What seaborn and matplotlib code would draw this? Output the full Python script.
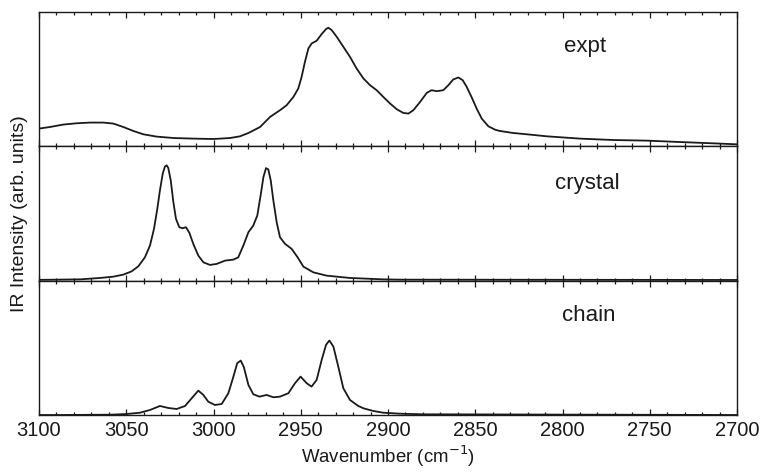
import matplotlib
matplotlib.use("Agg")
import matplotlib.pyplot as plt
from matplotlib.ticker import MultipleLocator
import seaborn as sns
import pandas as pd

# ---- data (wavenumber in cm^-1, intensity in arb. units) ----
expt_wn = [3100, 3093.7, 3086.1, 3078.4, 3070.8, 3063.1, 3057.4, 3051.7, 3045.9, 3040.2,
           3032.6, 3023.0, 3011.6, 3000.1, 2990.5, 2984.8, 2980.0, 2973.3, 2967.6, 2961.9,
           2958.1, 2954.2, 2951.4, 2949.5, 2947.6, 2945.6, 2943.7, 2940.9, 2938.0, 2935.5,
           2934.2, 2932.3, 2929.4, 2925.6, 2921.8, 2918.0, 2914.1, 2910.3, 2906.5, 2902.7,
           2898.8, 2895.0, 2891.2, 2888.3, 2885.5, 2881.6, 2877.8, 2875.0, 2872.1, 2868.3,
           2865.4, 2862.6, 2859.7, 2857.2, 2854.9, 2852.0, 2849.2, 2846.3, 2842.5, 2838.5,
           2835.8, 2828.2, 2818.6, 2809.1, 2790.0, 2770.9, 2751.8, 2732.7, 2713.6, 2700]
expt_int = [17.7, 19.3, 21.7, 23.0, 23.7, 23.7, 22.7, 19.3, 15.3, 12.0,
            9.7, 8.3, 7.7, 7.3, 8.3, 10.0, 13.3, 19.3, 29.3, 36.0,
            41.0, 49.3, 57.7, 69.3, 84.3, 97.7, 102.7, 105.3, 112.0, 117.0,
            118.3, 116.0, 109.3, 99.3, 89.3, 77.7, 67.7, 61.0, 56.0, 49.3,
            42.7, 37.0, 33.3, 32.7, 36.0, 44.3, 53.3, 56.0, 55.0, 56.0,
            61.0, 66.7, 68.7, 66.0, 59.3, 48.7, 37.7, 27.7, 20.0, 16.5,
            15.3, 13.3, 11.7, 10.0, 7.7, 6.3, 5.7, 4.3, 3.0, 2.0]

crystal_wn = [3100, 3076.5, 3065.0, 3057.4, 3051.7, 3046.9, 3043.1, 3039.3, 3036.4, 3034.1,
              3032.2, 3030.7, 3029.1, 3027.8, 3026.8, 3025.9, 3024.5, 3023.0, 3021.5, 3019.6,
              3017.7, 3015.8, 3013.8, 3011.6, 3008.7, 3005.8, 3002.0, 2998.2, 2993.4, 2988.6,
              2985.8, 2982.9, 2980.0, 2977.2, 2974.9, 2973.0, 2971.4, 2969.9, 2968.6, 2967.2,
              2965.7, 2963.8, 2961.9, 2959.0, 2955.2, 2951.8, 2948.5, 2942.8, 2935.2, 2921.8,
              2902.7, 2893.1, 2700]
crystal_int = [0.8, 1.3, 2.7, 4.0, 6.0, 9.3, 14.3, 23.3, 35.0, 51.7,
               71.7, 90.0, 106.7, 114.0, 115.0, 112.3, 100.0, 78.3, 61.7, 53.3,
               52.3, 53.3, 47.7, 36.7, 25.0, 18.3, 15.7, 16.7, 20.0, 21.0,
               23.3, 35.0, 48.3, 55.0, 65.0, 85.0, 103.3, 112.3, 111.0, 100.0,
               80.0, 58.3, 43.3, 36.7, 31.7, 23.3, 14.0, 8.3, 5.0, 2.7,
               1.3, 1.0, 0.7]

chain_wn = [3100, 3088.0, 3059.3, 3049.8, 3042.1, 3036.4, 3030.7, 3025.9, 3021.1, 3016.3,
            3012.5, 3008.7, 3005.8, 3003.0, 2999.2, 2995.3, 2991.5, 2988.6, 2986.4, 2984.4,
            2982.6, 2980.0, 2977.2, 2973.7, 2969.6, 2965.7, 2961.9, 2957.1, 2953.3, 2950.1,
            2946.6, 2943.8, 2940.9, 2938.0, 2935.5, 2933.6, 2931.3, 2928.5, 2925.6, 2921.8,
            2917.0, 2914.1, 2908.4, 2902.7, 2893.1, 2879.7, 2700]
chain_int = [0.0, 0.0, 0.3, 1.0, 2.3, 5.0, 9.0, 7.0, 6.0, 9.0,
             16.7, 24.3, 20.0, 13.3, 10.0, 11.0, 21.7, 38.3, 51.7, 54.3,
             47.7, 30.0, 20.7, 18.3, 20.0, 17.7, 18.3, 21.7, 31.7, 38.3,
             31.7, 28.3, 35.0, 55.0, 70.0, 74.3, 68.3, 48.3, 26.7, 15.0,
             9.0, 6.7, 4.0, 2.3, 1.3, 0.7, 0.0]

panel_names = ["expt", "crystal", "chain"]
xtick_labels = ["3100", "3050", "3000", "2950", "2900", "2850", "2800", "2750", "2700"]

sns.set_style("ticks")
plt.rcParams["font.family"] = ["Liberation Sans", "DejaVu Sans"]

fig = plt.figure(figsize=(7.63, 4.74), dpi=100)
left, right = 39 / 763, 737 / 763
bottom, top = 1 - 415 / 474, 1 - 12 / 474
h = (top - bottom) / 3

line_color = "#1a1a1a"
series = [(expt_wn, expt_int), (crystal_wn, crystal_int), (chain_wn, chain_int)]
label_pos = [(0.782, 0.74), (0.786, 0.72), (0.788, 0.74)]
axes = []
for i, ((wn, inten), name) in enumerate(zip(series, panel_names)):
    ax = fig.add_axes([left, top - (i + 1) * h, right - left, h])
    df = pd.DataFrame({"wn": wn, "I": inten})
    sns.lineplot(data=df, x="wn", y="I", ax=ax, color=line_color, linewidth=1.3,
                 estimator=None, sort=False)
    ax.set_xlim(3100, 2700)
    ax.set_ylim(0, 134)
    ax.set_yticks([])
    ax.set_ylabel("")
    ax.set_xlabel("")
    ax.xaxis.set_major_locator(MultipleLocator(50))
    ax.xaxis.set_minor_locator(MultipleLocator(10))
    ax.tick_params(axis="x", which="both", direction="in", top=True, bottom=True,
                   width=0.9, color=line_color)
    ax.tick_params(axis="x", which="major", length=4.5)
    ax.tick_params(axis="x", which="minor", length=2.5)
    for sp in ax.spines.values():
        sp.set_linewidth(1.0)
        sp.set_color(line_color)
        sp.set_visible(True)
    if i < 2:
        ax.tick_params(axis="x", labelbottom=False)
    else:
        ax.set_xticks(range(3100, 2699, -50))
        ax.set_xticklabels(xtick_labels, fontsize=14.5, color=line_color)
        ax.tick_params(axis="x", which="major", pad=4)
    lx, ly = label_pos[i]
    ax.text(lx, ly, name, transform=ax.transAxes, fontsize=16,
            ha="center", va="center", color=line_color)
    axes.append(ax)

axes[2].set_xlabel("Wavenumber (cm$^{-1}$)", fontsize=13.4, labelpad=3, color=line_color)
fig.text(0.025, (top + bottom) / 2, "IR Intensity (arb. units)", rotation=90,
         ha="center", va="center", fontsize=14, color=line_color)

fig.savefig("out.png", dpi=100)
